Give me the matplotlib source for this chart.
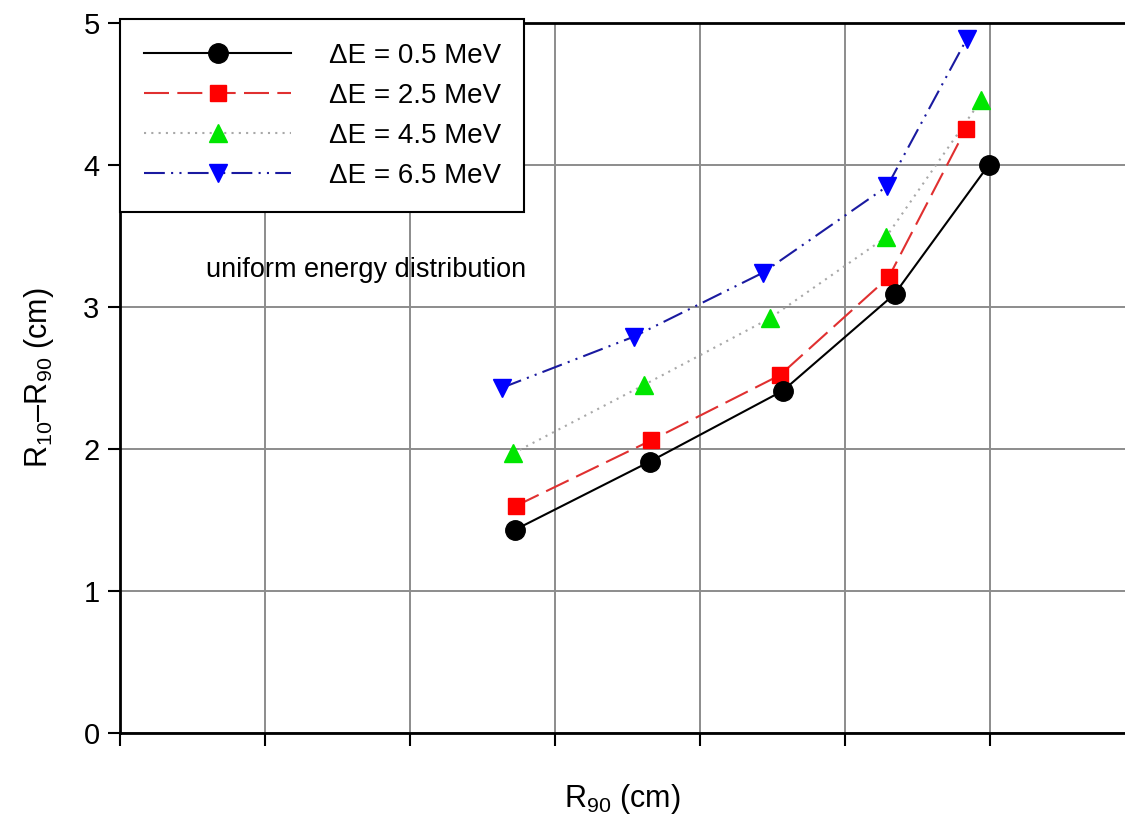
"""plot.py"""

import matplotlib
matplotlib.use("Agg")
import matplotlib.pyplot as plt

plt.rcParams["font.family"] = ["Liberation Sans", "DejaVu Sans"]
plt.rcParams["mathtext.fontset"] = "custom"
plt.rcParams["mathtext.rm"] = "Liberation Sans"
plt.rcParams["mathtext.it"] = "Liberation Sans:italic"
plt.rcParams["mathtext.default"] = "regular"

# data (x in grid units, no labels on the x axis)
labels = ["ΔE = 0.5 MeV", "ΔE = 2.5 MeV", "ΔE = 4.5 MeV", "ΔE = 6.5 MeV"]
x_05 = [2.72, 3.65, 4.57, 5.34, 5.99]
y_05 = [1.43, 1.91, 2.41, 3.09, 4.00]
x_25 = [2.73, 3.66, 4.55, 5.30, 5.83]
y_25 = [1.60, 2.06, 2.52, 3.21, 4.25]
x_45 = [2.71, 3.61, 4.48, 5.28, 5.94]
y_45 = [1.97, 2.45, 2.92, 3.49, 4.46]
x_65 = [2.63, 3.54, 4.43, 5.29, 5.84]
y_65 = [2.43, 2.79, 3.24, 3.85, 4.89]
x_ticks = [0, 1, 2, 3, 4, 5, 6]
y_ticks = [0, 1, 2, 3, 4, 5]

fig = plt.figure(figsize=(11.25, 8.19), dpi=100)
ax = fig.add_axes([0.107, 0.105, 0.893, 0.867])

ax.plot(x_05, y_05, color="black", lw=1.5, marker="o", ms=14,
        mfc="black", mec="black", label=labels[0], zorder=5)
ax.plot(x_25, y_25, color="#e03030", lw=1.5, dashes=(12, 4), marker="s",
        ms=12, mfc="#ff0000", mec="#ff0000", label=labels[1], zorder=4)
ax.plot(x_45, y_45, color="#a8a8a8", lw=1.5, dashes=(1, 2.5), marker="^",
        ms=13, mfc="#00e600", mec="#00e600", label=labels[2], zorder=3)
ax.plot(x_65, y_65, color="#1a1aa0", lw=1.5, dashes=(10, 3, 1, 3, 1, 3),
        marker="v", ms=13, mfc="#0000ff", mec="#0000ff", label=labels[3],
        zorder=2)

ax.text(0.59, 3.26, "uniform energy distribution", fontsize=19.5,
        va="center", ha="left")

ax.set_xlim(0, 6.93)
ax.set_ylim(0, 5)
ax.set_xticks(x_ticks)
ax.set_xticklabels([])
ax.set_yticks(y_ticks)
ax.tick_params(axis="both", direction="out", length=9, width=1.5,
               labelsize=21, colors="black", pad=6)
ax.grid(True, color="#8c8c8c", lw=1.4)
ax.set_axisbelow(True)
for side in ["left", "bottom", "top"]:
    ax.spines[side].set_linewidth(2)
ax.spines["right"].set_visible(False)

ax.set_xlabel("R$_{90}$ (cm)", fontsize=22, labelpad=20)
ax.set_ylabel("R$_{10}$–R$_{90}$ (cm)", fontsize=22, labelpad=20)

leg = ax.legend(loc="upper left", bbox_to_anchor=(0, 1.005), borderaxespad=0,
                fontsize=20, handlelength=5.3, handletextpad=1.35,
                borderpad=0.85, labelspacing=0.5, fancybox=False,
                framealpha=1, edgecolor="black")
leg.get_frame().set_linewidth(1.5)
leg.set_zorder(10)

fig.savefig("out.png", dpi=100)
